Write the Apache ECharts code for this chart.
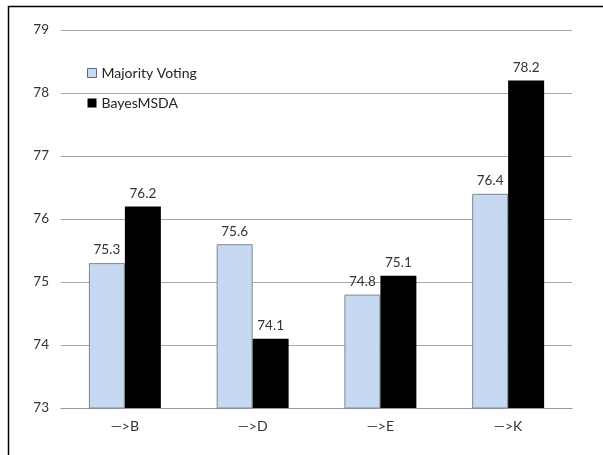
<!DOCTYPE html>
<html><head><meta charset="utf-8">
<script src="https://cdn.jsdelivr.net/npm/echarts@6/dist/echarts.min.js"></script>
<style>html,body{margin:0;padding:0;background:#fff}#c{width:603px;height:455px}</style>
</head><body><div id="c"></div>
<script>
const categories = ['—>B', '—>D', '—>E', '—>K'];
const majorityVoting = [75.3, 75.6, 74.8, 76.4];
const bayesMSDA = [76.2, 74.1, 75.1, 78.2];
const yTicks = { min: 73, max: 79, interval: 1 };

const font = 'Lato, "Open Sans", sans-serif';
const chart = echarts.init(document.getElementById('c'));
chart.setOption({
  animation: false,
  backgroundColor: '#fff',
  graphic: [{ type: 'rect', shape: { x: 8.5, y: 6.5, width: 620, height: 470 }, style: { fill: 'none', stroke: '#000', lineWidth: 1.5 } }],
  grid: { left: 61, right: 31, top: 30, bottom: 47 },
  legend: {
    orient: 'vertical', left: 82, top: 61, itemGap: 16, itemWidth: 9, itemHeight: 9,
    textStyle: { fontFamily: font, fontSize: 14, color: '#222' },
    data: [
      { name: 'Majority Voting', icon: 'rect', itemStyle: { borderColor: '#5a6a80', borderWidth: 1 } },
      { name: 'BayesMSDA', icon: 'rect' }
    ]
  },
  xAxis: {
    type: 'category', data: categories,
    axisLine: { lineStyle: { color: '#999' } }, axisTick: { show: false },
    axisLabel: { fontFamily: font, fontSize: 14, color: '#333', margin: 11 }
  },
  yAxis: {
    type: 'value', min: yTicks.min, max: yTicks.max, interval: yTicks.interval,
    axisLine: { show: false }, axisTick: { show: false },
    splitLine: { lineStyle: { color: '#a6a6a6' } },
    axisLabel: { fontFamily: font, fontSize: 13.5, color: '#333', margin: 12 }
  },
  series: [
    { name: 'Majority Voting', type: 'bar', data: majorityVoting, barWidth: 36, barGap: '0%',
      itemStyle: { color: '#c6d9f1', borderColor: '#7f8896', borderWidth: 1 },
      label: { show: true, position: 'top', fontFamily: font, fontSize: 13.5, color: '#333', distance: 6 } },
    { name: 'BayesMSDA', type: 'bar', data: bayesMSDA, barWidth: 36,
      itemStyle: { color: '#000' },
      label: { show: true, position: 'top', fontFamily: font, fontSize: 13.5, color: '#333', distance: 6 } }
  ]
});
</script></body></html>
